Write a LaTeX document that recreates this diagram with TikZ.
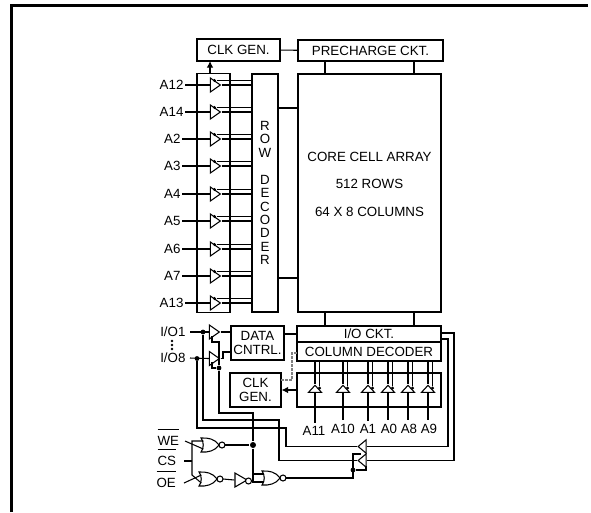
\documentclass[tikz,border=0pt]{standalone}
\usepackage{fontspec}
\setmainfont{Liberation Sans}
\usetikzlibrary{arrows.meta,shapes.geometric}
\tikzset{
  every node/.style={font=\fontsize{10}{10.5}\selectfont},
  blockbox/.style={draw,inner sep=0pt,align=center},
  pinlabel/.style={inner sep=0.75pt,anchor=east},
  iolabel/.style={inner sep=3pt,anchor=east},
  collabel/.style={inner sep=2.5pt},
  buftri/.style={isosceles triangle,isosceles triangle stretches,draw,fill=white,inner sep=0pt,minimum width=10.5pt,minimum height=7.5pt},
  coltri/.style={buftri,shape border rotate=90,minimum width=9.75pt,minimum height=5.25pt},
  muxtri/.style={buftri,shape border rotate=180,minimum height=6pt,minimum width=10pt},
  smalldot/.style={circle,fill,inner sep=0pt,minimum size=2.6pt},
  jdot/.style={circle,fill,inner sep=0pt,minimum size=3.6pt},
  bubble/.style={circle,draw,fill=white,inner sep=0pt,minimum size=4.5pt},
  norgate/.pic={
    \draw (-9,-7) .. controls (-6,-3.5) and (-6,3.5) .. (-9,7) .. controls (-2,7.5) and (5,6) .. (9,0) .. controls (5,-6) and (-2,-7.5) .. (-9,-7) -- cycle ;
    \draw (12,0) circle (2.25pt) ;
    \coordinate (-a) at (-6.7,-4) ;
    \coordinate (-b) at (-6.7,4) ;
    \coordinate (-out) at (15,0) ;
  },
}
\begin{document}
\begin{tikzpicture}[x=0.75pt,y=0.75pt,yscale=-1,xscale=1,line width=0.8pt]
\useasboundingbox (0,0) rectangle (591,512);

%Shape: Frame
\draw [line width=2.25pt] (11,512) -- (11,5.5) -- (588,5.5) ;

%Shape: Blocks
\node [blockbox,minimum width=62.25pt,minimum height=16.5pt] (clkgen) at (238.5,50) {CLK GEN.};
\node [blockbox,minimum width=108.75pt,minimum height=15.75pt] (precharge) at (370.5,50.5) {PRECHARGE CKT.};
\node [blockbox,minimum width=24.75pt,minimum height=179.25pt] (bufbox) at (213.5,193) {};
\node [blockbox,minimum width=19.5pt,minimum height=178.5pt,font=\fontsize{10}{10.1}\selectfont] (rowdec) at (265,193) {R\\O\\W\\[10.1pt]D\\E\\C\\O\\D\\E\\R};
\node [blockbox,minimum width=107.25pt,minimum height=178.5pt] (core) at (369.5,193) {};
\node [blockbox,minimum width=108pt,minimum height=12pt] (iockt) at (369,334) {I/O CKT.};
\node [blockbox,minimum width=108pt,minimum height=14.25pt] (coldec) at (369,351.5) {COLUMN DECODER};
\node [blockbox,minimum width=108pt,minimum height=25.5pt] (colbox) at (369,390) {};
\node [blockbox,minimum width=39.75pt,minimum height=25.5pt] (datactl) at (257.5,343) {DATA\\CNTRL.};
\node [blockbox,minimum width=38.25pt,minimum height=25.5pt] (clkgenb) at (255.5,390) {CLK\\GEN.};

% Text Node
\node [align=center,inner sep=0.75pt] (corelabel) at (369.5,184) {CORE CELL ARRAY\\[10.1pt]512 ROWS\\[10.1pt]64 X 8 COLUMNS};

%Straight Lines
\draw (clkgen) -- (precharge) ;
\draw (325,61) -- (325,74) ;
\draw (414,61) -- (414,74) ;
\draw (325,312) -- (325,326) ;
\draw (414,312) -- (414,326) ;
\draw (278,108) -- (298,108) ;
\draw (278,278) -- (298,278) ;
\draw (datactl.east |- iockt) -- (iockt.west) ;
\draw [-{Latex[length=5pt,width=5pt]}] (210,73) -- (210,61) ;
\draw [-{Latex[length=5pt,width=5pt]}] (colbox.west) -- (clkgenb.east) ;
\draw [dashed,dash pattern=on 2pt off 1pt,color=gray] (281,380) -- (292,380) -- (292,353) -- (297,353) ;

%Shape: Row Buffers
\node [pinlabel] (A12) at (185,85) {A12};
\node [buftri] (bufA12) at (214,85) {};
\node [smalldot] (notA12) at (214.5,80.5) {};
\draw (A12.east) -- (bufA12.west) (bufA12.east) -- (bufA12.east -| rowdec.west) (notA12) -- (notA12 -| rowdec.west) ;
\node [pinlabel] (A14) at (185,112) {A14};
\node [buftri] (bufA14) at (214,112) {};
\node [smalldot] (notA14) at (214.5,107.5) {};
\draw (A14.east) -- (bufA14.west) (bufA14.east) -- (bufA14.east -| rowdec.west) (notA14) -- (notA14 -| rowdec.west) ;
\node [pinlabel] (A2) at (182,139) {A2};
\node [buftri] (bufA2) at (214,139) {};
\node [smalldot] (notA2) at (214.5,134.5) {};
\draw (A2.east) -- (bufA2.west) (bufA2.east) -- (bufA2.east -| rowdec.west) (notA2) -- (notA2 -| rowdec.west) ;
\node [pinlabel] (A3) at (182,166) {A3};
\node [buftri] (bufA3) at (214,166) {};
\node [smalldot] (notA3) at (214.5,161.5) {};
\draw (A3.east) -- (bufA3.west) (bufA3.east) -- (bufA3.east -| rowdec.west) (notA3) -- (notA3 -| rowdec.west) ;
\node [pinlabel] (A4) at (182,194) {A4};
\node [buftri] (bufA4) at (214,194) {};
\node [smalldot] (notA4) at (214.5,189.5) {};
\draw (A4.east) -- (bufA4.west) (bufA4.east) -- (bufA4.east -| rowdec.west) (notA4) -- (notA4 -| rowdec.west) ;
\node [pinlabel] (A5) at (182,221) {A5};
\node [buftri] (bufA5) at (214,221) {};
\node [smalldot] (notA5) at (214.5,216.5) {};
\draw (A5.east) -- (bufA5.west) (bufA5.east) -- (bufA5.east -| rowdec.west) (notA5) -- (notA5 -| rowdec.west) ;
\node [pinlabel] (A6) at (182,249) {A6};
\node [buftri] (bufA6) at (214,249) {};
\node [smalldot] (notA6) at (214.5,244.5) {};
\draw (A6.east) -- (bufA6.west) (bufA6.east) -- (bufA6.east -| rowdec.west) (notA6) -- (notA6 -| rowdec.west) ;
\node [pinlabel] (A7) at (182,276) {A7};
\node [buftri] (bufA7) at (214,276) {};
\node [smalldot] (notA7) at (214.5,271.5) {};
\draw (A7.east) -- (bufA7.west) (bufA7.east) -- (bufA7.east -| rowdec.west) (notA7) -- (notA7 -| rowdec.west) ;
\node [pinlabel] (A13) at (185,303) {A13};
\node [buftri] (bufA13) at (214,303) {};
\node [smalldot] (notA13) at (214.5,298.5) {};
\draw (A13.east) -- (bufA13.west) (bufA13.east) -- (bufA13.east -| rowdec.west) (notA13) -- (notA13 -| rowdec.west) ;

%Shape: Column Buffers
\node [collabel] (A11) at (314,431) {A11};
\node [coltri] (bufA11) at (315,389.5) {};
\node [smalldot] (notA11) at (319.5,388) {};
\draw (bufA11.south) -- (bufA11.south |- A11.north) (bufA11.north) -- (bufA11.north |- coldec.south) (notA11) -- (notA11 |- coldec.south) ;
\node [collabel] (A10) at (343,429) {A10};
\node [coltri] (bufA10) at (343,389.5) {};
\node [smalldot] (notA10) at (347.5,388) {};
\draw (bufA10.south) -- (bufA10.south |- A10.north) (bufA10.north) -- (bufA10.north |- coldec.south) (notA10) -- (notA10 |- coldec.south) ;
\node [collabel] (A1) at (368,429) {A1};
\node [coltri] (bufA1) at (368,389.5) {};
\node [smalldot] (notA1) at (372.5,388) {};
\draw (bufA1.south) -- (bufA1.south |- A1.north) (bufA1.north) -- (bufA1.north |- coldec.south) (notA1) -- (notA1 |- coldec.south) ;
\node [collabel] (A0) at (389,429) {A0};
\node [coltri] (bufA0) at (388,389.5) {};
\node [smalldot] (notA0) at (392.5,388) {};
\draw (bufA0.south) -- (bufA0.south |- A0.north) (bufA0.north) -- (bufA0.north |- coldec.south) (notA0) -- (notA0 |- coldec.south) ;
\node [collabel] (A8) at (409,429) {A8};
\node [coltri] (bufA8) at (408,389.5) {};
\node [smalldot] (notA8) at (412.5,388) {};
\draw (bufA8.south) -- (bufA8.south |- A8.north) (bufA8.north) -- (bufA8.north |- coldec.south) (notA8) -- (notA8 |- coldec.south) ;
\node [collabel] (A9) at (429,429) {A9};
\node [coltri] (bufA9) at (428,389.5) {};
\node [smalldot] (notA9) at (432.5,388) {};
\draw (bufA9.south) -- (bufA9.south |- A9.north) (bufA9.north) -- (bufA9.north |- coldec.south) (notA9) -- (notA9 |- coldec.south) ;

%Shape: I/O Buffers
\node [iolabel] (IOa) at (190,332) {I/O1};
\node [iolabel] (IOb) at (190,358) {I/O8};
\node [smalldot,minimum size=2pt] (dotIOa) at (172,341) {};
\node [smalldot,minimum size=2pt] (dotIOb) at (172,345) {};
\node [smalldot,minimum size=2pt] (dotIOc) at (172,349) {};
\node [buftri] (bufIOa) at (213,332) {};
\node [buftri] (bufIOb) at (213,358.5) {};
\node [jdot] (jIOa) at (203,332) {};
\node [jdot] (jIOb) at (197,358.5) {};
\node [jdot] (jEn) at (219,368) {};
\draw (IOa.east) -- (bufIOa.west) ;
\draw (IOb.east) -- (bufIOb.west) ;
\draw (bufIOa.east) -- (bufIOa.east -| datactl.west) ;
\draw (bufIOb.east) -- (223,358.5) -- (223,352) -- (231,352) ;
\draw (212,336) -- (212,342) -- (219,342) -- (jEn) ;
\draw (212,362) -- (212,368) -- (jEn) ;

%Shape: Logic Gates
\node [anchor=base west,inner sep=0.75pt] (WE) at (156,445) {$\overline{\hbox{\rule{0pt}{10.6pt}WE}}$};
\node [anchor=base west,inner sep=0.75pt] (CS) at (156,465) {$\overline{\hbox{\rule{0pt}{10.6pt}CS}}$};
\node [anchor=base west,inner sep=0.75pt] (OE) at (155,487) {$\overline{\hbox{\rule{0pt}{10.6pt}OE}}$};
\pic (norA) at (210,445) {norgate};
\pic (norB) at (208,479) {norgate};
\pic (norC) at (271,478) {norgate};
\node [buftri,minimum height=9pt] (inv) at (239,480) {};
\node [bubble] (notinv) at (248.5,481) {};
\node [jdot,minimum size=4.5pt] (jWE) at (253,445) {};
\node [jdot] (jOut) at (353,470) {};
\coordinate (pinWE) at (185,441) ;
\coordinate (pinCS) at (184,461) ;
\coordinate (pinOE) at (184,483) ;
\draw (pinWE) -- (norA-a) ;
\draw (pinOE) -- (norB-b) ;
\draw (pinCS) -- (192,461) ;
\draw (norA-b) -| (192,475) -- (norB-a) ;
\draw (norA-out) -- (jWE) ;
\draw (norB-out) -- (inv.west) ;
\draw (jWE) |- (norC-a) ;
\draw (notinv.east |- norC-b) -- (norC-b) ;
\draw (jEn) -- (219,413) -- (253,413) -- (jWE) ;

%Shape: Mux Buffers
\node [muxtri] (muxA) at (363,446.5) {};
\node [muxtri] (muxB) at (363,460.5) {};
\coordinate (ioA) at (441,339) ;
\coordinate (ioB) at (441,333) ;
\draw (jIOa) -- (203,420) -- (279,420) -- (279,460.5) -- (muxB.west) ;
\draw (jIOb) -- (197,428) -- (286,428) -- (286,446.5) -- (muxA.west) ;
\draw (muxA.east) -- (448,446.5) -- (448,339) -- (ioA) ;
\draw (muxB.east) -- (454,460.5) -- (454,333) -- (ioB) ;
\draw (norC-out) -- (353,478) -- (353,454) -- (361,454) ;
\draw (jOut) -- (366,470) -- (366,466) ;
\end{tikzpicture}
\end{document}
